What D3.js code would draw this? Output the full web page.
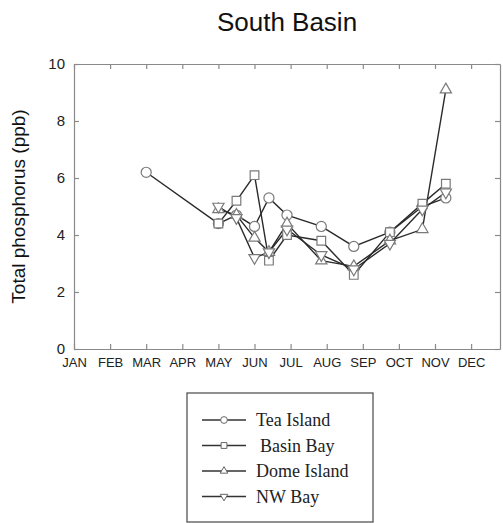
<!DOCTYPE html>
<html>
<head>
<meta charset="utf-8">
<script src="https://cdn.jsdelivr.net/npm/d3@7/dist/d3.min.js"></script>
<style>
  html, body { margin: 0; padding: 0; background: #fff; }
  svg { display: block; }
</style>
</head>
<body>
<svg id="chart" width="503" height="523"></svg>
<script>
// Month labels along the x axis (positions are months since 1 Jan)
const monthLabels = ["JAN","FEB","MAR","APR","MAY","JUN","JUL","AUG","SEP","OCT","NOV","DEC"];
const yTicks = [0, 2, 4, 6, 8, 10];

// Sampling dates (fractional months) and total phosphorus (ppb) per station
const teaDates   = [2.0, 4.0, 4.5, 5.0, 5.4, 5.9, 6.85, 7.75, 8.75, 9.65, 10.3];
const teaValues  = [6.2, 4.4, 4.7, 4.3, 5.3, 4.7, 4.3, 3.6, 4.1, 5.0, 5.3];

const basinDates  = [4.0, 4.5, 5.0, 5.4, 5.9, 6.85, 7.75, 8.75, 9.65, 10.3];
const basinValues = [4.4, 5.2, 6.1, 3.1, 4.0, 3.8, 2.6, 4.1, 5.1, 5.8];

const domeDates  = [4.0, 4.5, 5.0, 5.4, 5.9, 6.85, 7.75, 8.75, 9.65, 10.3];
const domeValues = [4.9, 4.7, 3.9, 3.4, 4.4, 3.1, 2.9, 3.8, 4.2, 9.1];

const nwDates  = [4.0, 4.5, 5.0, 5.4, 5.9, 6.85, 7.75, 8.75, 9.65, 10.3];
const nwValues = [5.0, 4.6, 3.2, 3.4, 4.2, 3.3, 2.8, 3.7, 4.9, 5.5];

const stations = [
  { name: "Tea Island",  symbol: d3.symbolCircle,   size: 80, dates: teaDates,   values: teaValues },
  { name: "Basin Bay",   symbol: d3.symbolSquare,   size: 75, dates: basinDates, values: basinValues },
  { name: "Dome Island", symbol: d3.symbolTriangle, size: 55, dates: domeDates,  values: domeValues, rot: 0 },
  { name: "NW Bay",      symbol: d3.symbolTriangle, size: 55, dates: nwDates,    values: nwValues,   rot: 180 }
];

const svg = d3.select("#chart");
const plotLeft = 74, plotRight = 500, plotTop = 64, plotBottom = 349;

const x = d3.scaleLinear().domain([0, 11.8]).range([plotLeft, plotRight]);
const y = d3.scaleLinear().domain([0, 10]).range([plotBottom, plotTop]);

const axisColor = "#8a8a8a";
const tickLen = 5;

// Title
svg.append("text")
  .attr("x", 287).attr("y", 31)
  .attr("text-anchor", "middle")
  .attr("font-family", "Liberation Sans, Arial, sans-serif")
  .attr("font-size", 26)
  .attr("fill", "#111")
  .text("South Basin");

// Y axis title
svg.append("text")
  .attr("transform", `translate(25,${(plotTop + plotBottom) / 2}) rotate(-90)`)
  .attr("text-anchor", "middle")
  .attr("font-family", "Liberation Sans, Arial, sans-serif")
  .attr("font-size", 19)
  .attr("fill", "#111")
  .text("Total phosphorus (ppb)");

// Axes: ticks point inward on every side
const monthTicks = d3.range(12);
const fmtMonth = i => monthLabels[i];

const gBottom = svg.append("g").attr("transform", `translate(0,${plotBottom})`)
  .call(d3.axisBottom(x).tickValues(monthTicks).tickFormat(fmtMonth).tickSizeInner(-tickLen).tickSizeOuter(0).tickPadding(9));
const gTop = svg.append("g").attr("transform", `translate(0,${plotTop})`)
  .call(d3.axisTop(x).tickValues(monthTicks).tickFormat("").tickSizeInner(-tickLen).tickSizeOuter(0));
const gLeft = svg.append("g").attr("transform", `translate(${plotLeft},0)`)
  .call(d3.axisLeft(y).tickValues(yTicks).tickFormat(d3.format("d")).tickSizeInner(-tickLen).tickSizeOuter(0).tickPadding(9));
const gRight = svg.append("g").attr("transform", `translate(${plotRight},0)`)
  .call(d3.axisRight(y).tickValues(yTicks).tickFormat("").tickSizeInner(-tickLen).tickSizeOuter(0));

[gBottom, gTop, gLeft, gRight].forEach(g => {
  g.selectAll("path.domain").attr("stroke", axisColor).attr("stroke-width", 1.2);
  g.selectAll(".tick line").attr("stroke", axisColor).attr("stroke-width", 1.2);
});
gBottom.selectAll("text")
  .attr("font-family", "Liberation Sans, Arial, sans-serif")
  .attr("font-size", 13).attr("fill", "#222");
gLeft.selectAll("text")
  .attr("font-family", "Liberation Sans, Arial, sans-serif")
  .attr("font-size", 15).attr("fill", "#222");

// Series lines and markers
const line = d3.line().x(d => x(d[0])).y(d => y(d[1]));

stations.forEach(s => {
  const pts = s.dates.map((d, i) => [d, s.values[i]]);
  svg.append("path")
    .datum(pts)
    .attr("fill", "none")
    .attr("stroke", "#2a2a2a")
    .attr("stroke-width", 1.4)
    .attr("d", line);
});

stations.forEach(s => {
  const pts = s.dates.map((d, i) => [d, s.values[i]]);
  const sym = d3.symbol().type(s.symbol).size(s.size);
  svg.append("g").selectAll("path")
    .data(pts)
    .join("path")
    .attr("transform", d => `translate(${x(d[0])},${y(d[1])}) rotate(${s.rot || 0})`)
    .attr("d", sym)
    .attr("fill", "#fff")
    .attr("stroke", "#7a7a7a")
    .attr("stroke-width", 1.2);
});

// Legend
const lg = svg.append("g");
lg.append("rect")
  .attr("x", 187).attr("y", 393).attr("width", 186).attr("height", 129)
  .attr("fill", "#fff").attr("stroke", "#555").attr("stroke-width", 1.3);

stations.forEach((s, i) => {
  const cy = 420 + i * 25.5;
  lg.append("line")
    .attr("x1", 202).attr("x2", 246).attr("y1", cy).attr("y2", cy)
    .attr("stroke", "#333").attr("stroke-width", 1.3);
  lg.append("path")
    .attr("transform", `translate(224,${cy}) rotate(${s.rot || 0})`)
    .attr("d", d3.symbol().type(s.symbol).size(s.size * 0.45)())
    .attr("fill", "#fff").attr("stroke", "#666").attr("stroke-width", 1);
  lg.append("text")
    .attr("x", i === 1 ? 260 : 256).attr("y", cy + 6)
    .attr("font-family", "Liberation Serif, Times New Roman, serif")
    .attr("font-size", 18)
    .attr("fill", "#222")
    .text(s.name);
});
</script>
</body>
</html>
